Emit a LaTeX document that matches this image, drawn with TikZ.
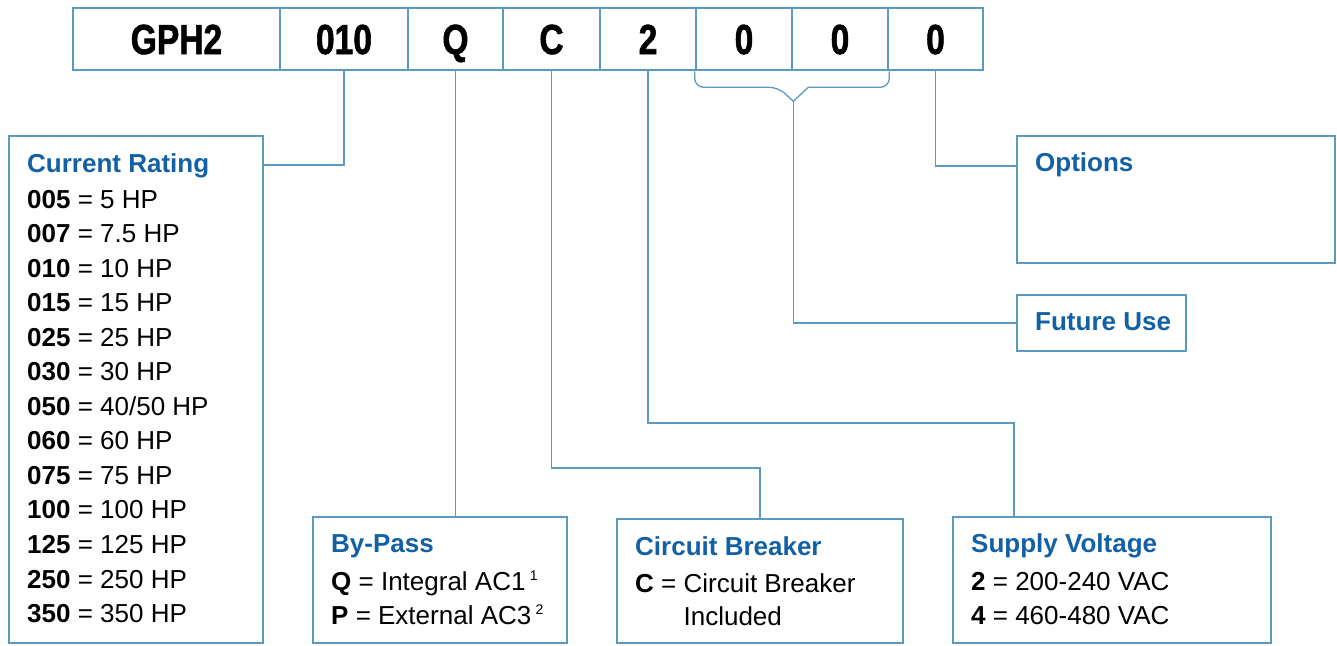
\documentclass[tikz,border=0pt]{standalone}
\usepackage{fontspec}
\setmainfont{Liberation Sans}
\newfontfamily\codefont{Liberation Sans Bold}[FakeBold=1.6]
\usepackage{graphicx}
\definecolor{lineblue}{RGB}{91,155,192}
\definecolor{headblue}{RGB}{18,96,166}
\newcommand{\supnum}[1]{\,\raisebox{10pt}{\fontsize{14}{14}\selectfont #1}}
\begin{document}
\begin{tikzpicture}[x=1pt,y=-1pt,
  codebox/.style={draw=lineblue,line width=2.6pt,minimum height=62pt,inner sep=0pt,text height=30pt,text depth=0pt,font=\fontsize{42}{42}\codefont},
  infobox/.style={draw=lineblue,line width=2pt,inner sep=0pt},
  hd/.style={anchor=base west,inner sep=0pt,text=headblue,font=\fontsize{26}{30}\selectfont\bfseries},
  ln/.style={anchor=base west,inner sep=0pt,font=\fontsize{26}{30}\selectfont},
  conn/.style={draw=lineblue,line width=1.3pt}]
\useasboundingbox (0,0) rectangle (1337,645);

% code boxes
\node[codebox,minimum width=207pt] (t1) at (176.5,39) {\scalebox{0.8}[1]{GPH2}};
\node[codebox,minimum width=128pt] (t2) at (344,39) {\scalebox{0.8}[1]{010}};
\node[codebox,minimum width=95pt] (t3) at (455.5,39) {\scalebox{0.8}[1]{Q}};
\node[codebox,minimum width=97pt] (t4) at (551.5,39) {\scalebox{0.8}[1]{C}};
\node[codebox,minimum width=96pt] (t5) at (648,39) {\scalebox{0.8}[1]{2}};
\node[codebox,minimum width=96pt] (t6) at (744,39) {\scalebox{0.8}[1]{0}};
\node[codebox,minimum width=96pt] (t7) at (840,39) {\scalebox{0.8}[1]{0}};
\node[codebox,minimum width=95pt] (t8) at (935.5,39) {\scalebox{0.8}[1]{0}};

% info boxes
\node[infobox,minimum width=254pt,minimum height=507pt] (cr) at (136,389.5) {};
\node[infobox,minimum width=254pt,minimum height=126pt] (bp) at (440,580) {};
\node[infobox,minimum width=286pt,minimum height=124pt] (cb) at (760,581) {};
\node[infobox,minimum width=318pt,minimum height=126pt] (sv) at (1112,580) {};
\node[infobox,minimum width=318pt,minimum height=127pt] (op) at (1176,199.5) {};
\node[infobox,minimum width=169pt,minimum height=56pt] (fu) at (1101.5,323) {};

% Current Rating texts
\node[hd] (crh) at (27,172) {Current Rating};
\node[ln] (cr1) at (27,208) {\textbf{005} = 5 HP};
\node[ln] (cr2) at (27,242.55) {\textbf{007} = 7.5 HP};
\node[ln] (cr3) at (27,277.1) {\textbf{010} = 10 HP};
\node[ln] (cr4) at (27,311.65) {\textbf{015} = 15 HP};
\node[ln] (cr5) at (27,346.2) {\textbf{025} = 25 HP};
\node[ln] (cr6) at (27,380.75) {\textbf{030} = 30 HP};
\node[ln] (cr7) at (27,415.3) {\textbf{050} = 40/50 HP};
\node[ln] (cr8) at (27,449.85) {\textbf{060} = 60 HP};
\node[ln] (cr9) at (27,484.4) {\textbf{075} = 75 HP};
\node[ln] (cr10) at (27,518.95) {\textbf{100} = 100 HP};
\node[ln] (cr11) at (27,553.5) {\textbf{125} = 125 HP};
\node[ln] (cr12) at (27,588.05) {\textbf{250} = 250 HP};
\node[ln] (cr13) at (27,622.6) {\textbf{350} = 350 HP};

% By-Pass texts
\node[hd] (bph) at (331,552) {By-Pass};
\node[ln] (bp1) at (331,590) {\textbf{Q} = Integral AC1\supnum{1}};
\node[ln] (bp2) at (331,624) {\textbf{P} = External AC3\supnum{2}};

% Circuit Breaker texts
\node[hd] (cbh) at (635,555) {Circuit Breaker};
\node[ln] (cb1) at (635,592) {\textbf{C} = Circuit Breaker};
\node[ln] (cb2) at (635,625) {\phantom{\textbf{C} = }Included};

% Supply Voltage texts
\node[hd] (svh) at (971,552) {Supply Voltage};
\node[ln] (sv1) at (971,590) {\textbf{2} = 200-240 VAC};
\node[ln] (sv2) at (971,624) {\textbf{4} = 460-480 VAC};

% Options and Future Use
\node[hd] (oph) at (1035,171) {Options};
\node[hd] (fuh) at (1035,330) {Future Use};

% connectors
\draw[conn] (t2.south) |- (cr.east |- 0,165);
\draw[conn] (t3.south) -- (t3.south |- bp.north);
\draw[conn] (t4.south) -- (t4.south |- 0,468) -| (cb.north);
\draw[conn] (t5.south) -- (t5.south |- 0,423) -| ([xshift=62pt]sv.north west);
\coordinate (vtip) at ([yshift=-30pt]t6.south east);
\draw[conn,rounded corners=9pt] (t6.south west) -- ([yshift=-16pt]t6.south west) -- ([xshift=-15pt,yshift=-16pt]t6.south east) [sharp corners] -- (vtip) -- ([xshift=15pt,yshift=-16pt]t6.south east) [rounded corners=9pt] -- ([yshift=-16pt]t7.south east) -- (t7.south east);
\draw[conn] (vtip) |- (fu.west);
\draw[conn] (t8.south) |- (op.west |- 0,166);
\end{tikzpicture}
\end{document}
